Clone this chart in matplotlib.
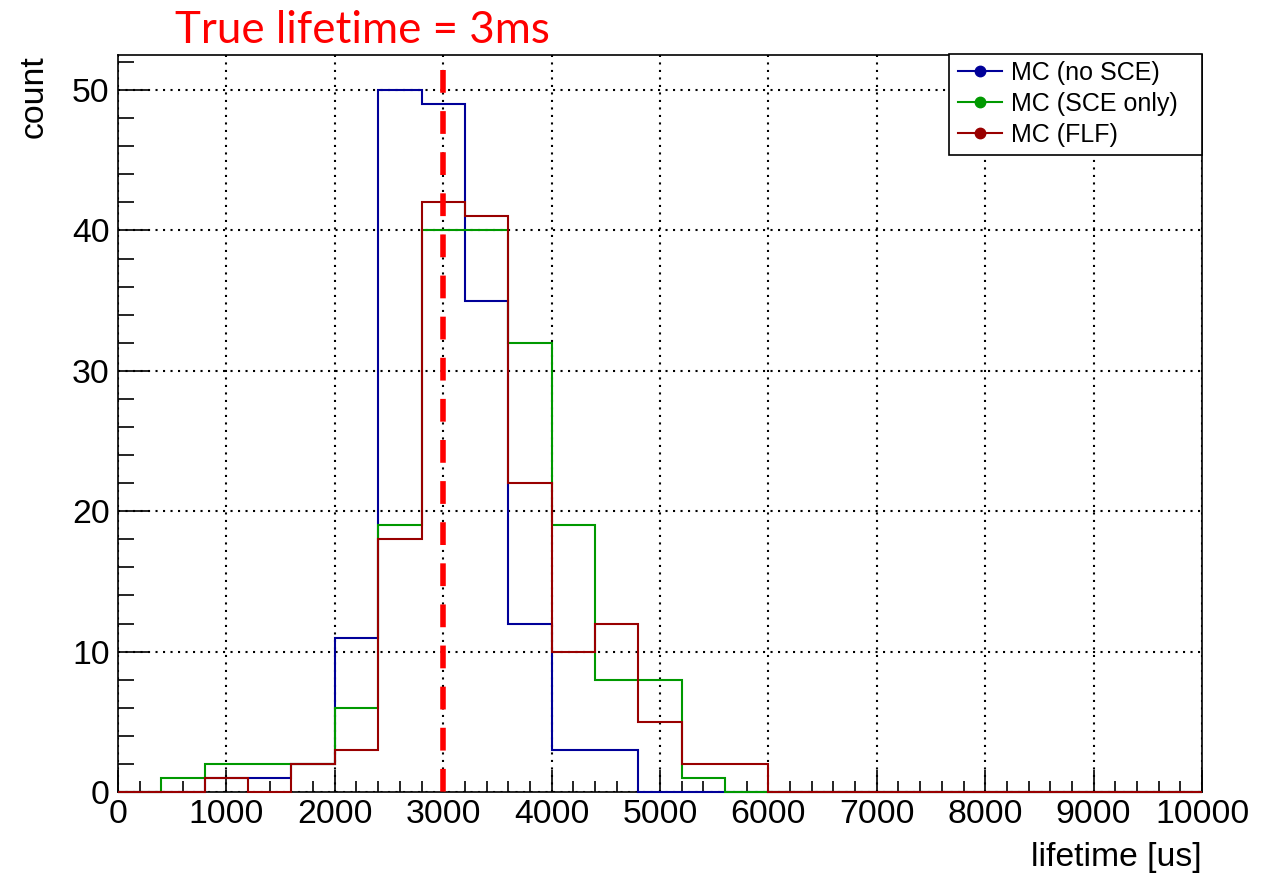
import numpy as np
import matplotlib
matplotlib.use("Agg")
import matplotlib.pyplot as plt
from matplotlib.lines import Line2D
from matplotlib.patches import Rectangle
from matplotlib.ticker import MultipleLocator

# Histogram binning: 25 bins of 400 us from 0 to 10000 us
bin_edges = np.arange(0, 10001, 400)

# Bin contents per sample
counts_no_sce = [0, 0, 1, 1, 2, 11, 50, 49, 35, 12, 3, 3, 0,
                 0, 0, 0, 0, 0, 0, 0, 0, 0, 0, 0, 0]
counts_sce_only = [0, 1, 2, 2, 2, 6, 19, 40, 40, 32, 19, 8, 8,
                   1, 0, 0, 0, 0, 0, 0, 0, 0, 0, 0, 0]
counts_flf = [0, 0, 1, 0, 2, 3, 18, 42, 41, 22, 10, 12, 5,
              2, 2, 0, 0, 0, 0, 0, 0, 0, 0, 0, 0]

labels = ["MC (no SCE)", "MC (SCE only)", "MC (FLF)"]
colors = ["#000099", "#009900", "#990000"]
true_lifetime = 3000
y_max = 52.5

W, H = 1278, 875
fig = plt.figure(figsize=(W / 100, H / 100), dpi=100)
fig.patch.set_facecolor("white")

L, R, T, B = 118, 1202, 55, 792
ax = fig.add_axes([L / W, 1 - B / H, (R - L) / W, (B - T) / H])

font = "Liberation Sans"
plt.rcParams["font.family"] = [font, "DejaVu Sans"]

for vals, col in zip([counts_no_sce, counts_sce_only, counts_flf], colors):
    ax.stairs(vals, bin_edges, color=col, lw=1.5, zorder=3, clip_on=False)

# Marker for the true electron lifetime
ax.plot([true_lifetime, true_lifetime], [51.4, 0], color="#ff0000", lw=4,
        dashes=(4.1, 3.3), zorder=4, solid_capstyle="butt")

ax.set_xlim(0, 10000)
ax.set_ylim(0, y_max)

ax.xaxis.set_major_locator(MultipleLocator(1000))
ax.xaxis.set_minor_locator(MultipleLocator(200))
ax.yaxis.set_major_locator(MultipleLocator(10))
ax.yaxis.set_minor_locator(MultipleLocator(2))

ax.tick_params(axis="x", which="major", direction="in", length=16, width=1.2,
               labelsize=24.3, pad=5, top=False)
ax.tick_params(axis="x", which="minor", direction="in", length=8, width=1.2, top=False)
ax.tick_params(axis="y", which="major", direction="in", length=23, width=1.2,
               labelsize=24.3, pad=6, right=False)
ax.tick_params(axis="y", which="minor", direction="in", length=11.5, width=1.2, right=False)
for lab in ax.get_xticklabels() + ax.get_yticklabels():
    lab.set_fontfamily(font)

for sp in ax.spines.values():
    sp.set_linewidth(1.2)
    sp.set_color("black")

ax.grid(which="major", color="black", linestyle=(0, (1, 2.6)), lw=1.5)

# Axis titles
fig.text(R / W, 1 - 866 / H, "lifetime [us]", ha="right", va="baseline",
         fontsize=24.3, family=font)
fig.text(43 / W, 1 - T / H, "count", rotation=90, rotation_mode="anchor",
         ha="right", va="baseline", fontsize=24.3, family=font)

# Annotation
fig.text(175 / W, 1 - 43 / H, "True lifetime = 3ms", ha="left", va="baseline",
         fontsize=31.6, color="#ff0000", family="Lato")

# Legend
handles = [Line2D([], [], color=c, lw=1.5, marker="o", markersize=7.5)
           for c in colors]
box = Rectangle((949 / W, 1 - 155 / H), (1202 - 949) / W, (155 - 54) / H,
                transform=fig.transFigure, facecolor="white", edgecolor="black",
                lw=1.2, zorder=5)
fig.add_artist(box)
leg = fig.legend(handles, labels, loc="upper left",
                 bbox_to_anchor=(953 / W, 1 - 56 / H), frameon=False,
                 prop={"family": font, "size": 18}, handlelength=1.76,
                 handletextpad=0.36, labelspacing=0.28, borderpad=0.2,
                 borderaxespad=0)
leg.set_zorder(6)

fig.savefig("out.png", dpi=100, facecolor="white")
